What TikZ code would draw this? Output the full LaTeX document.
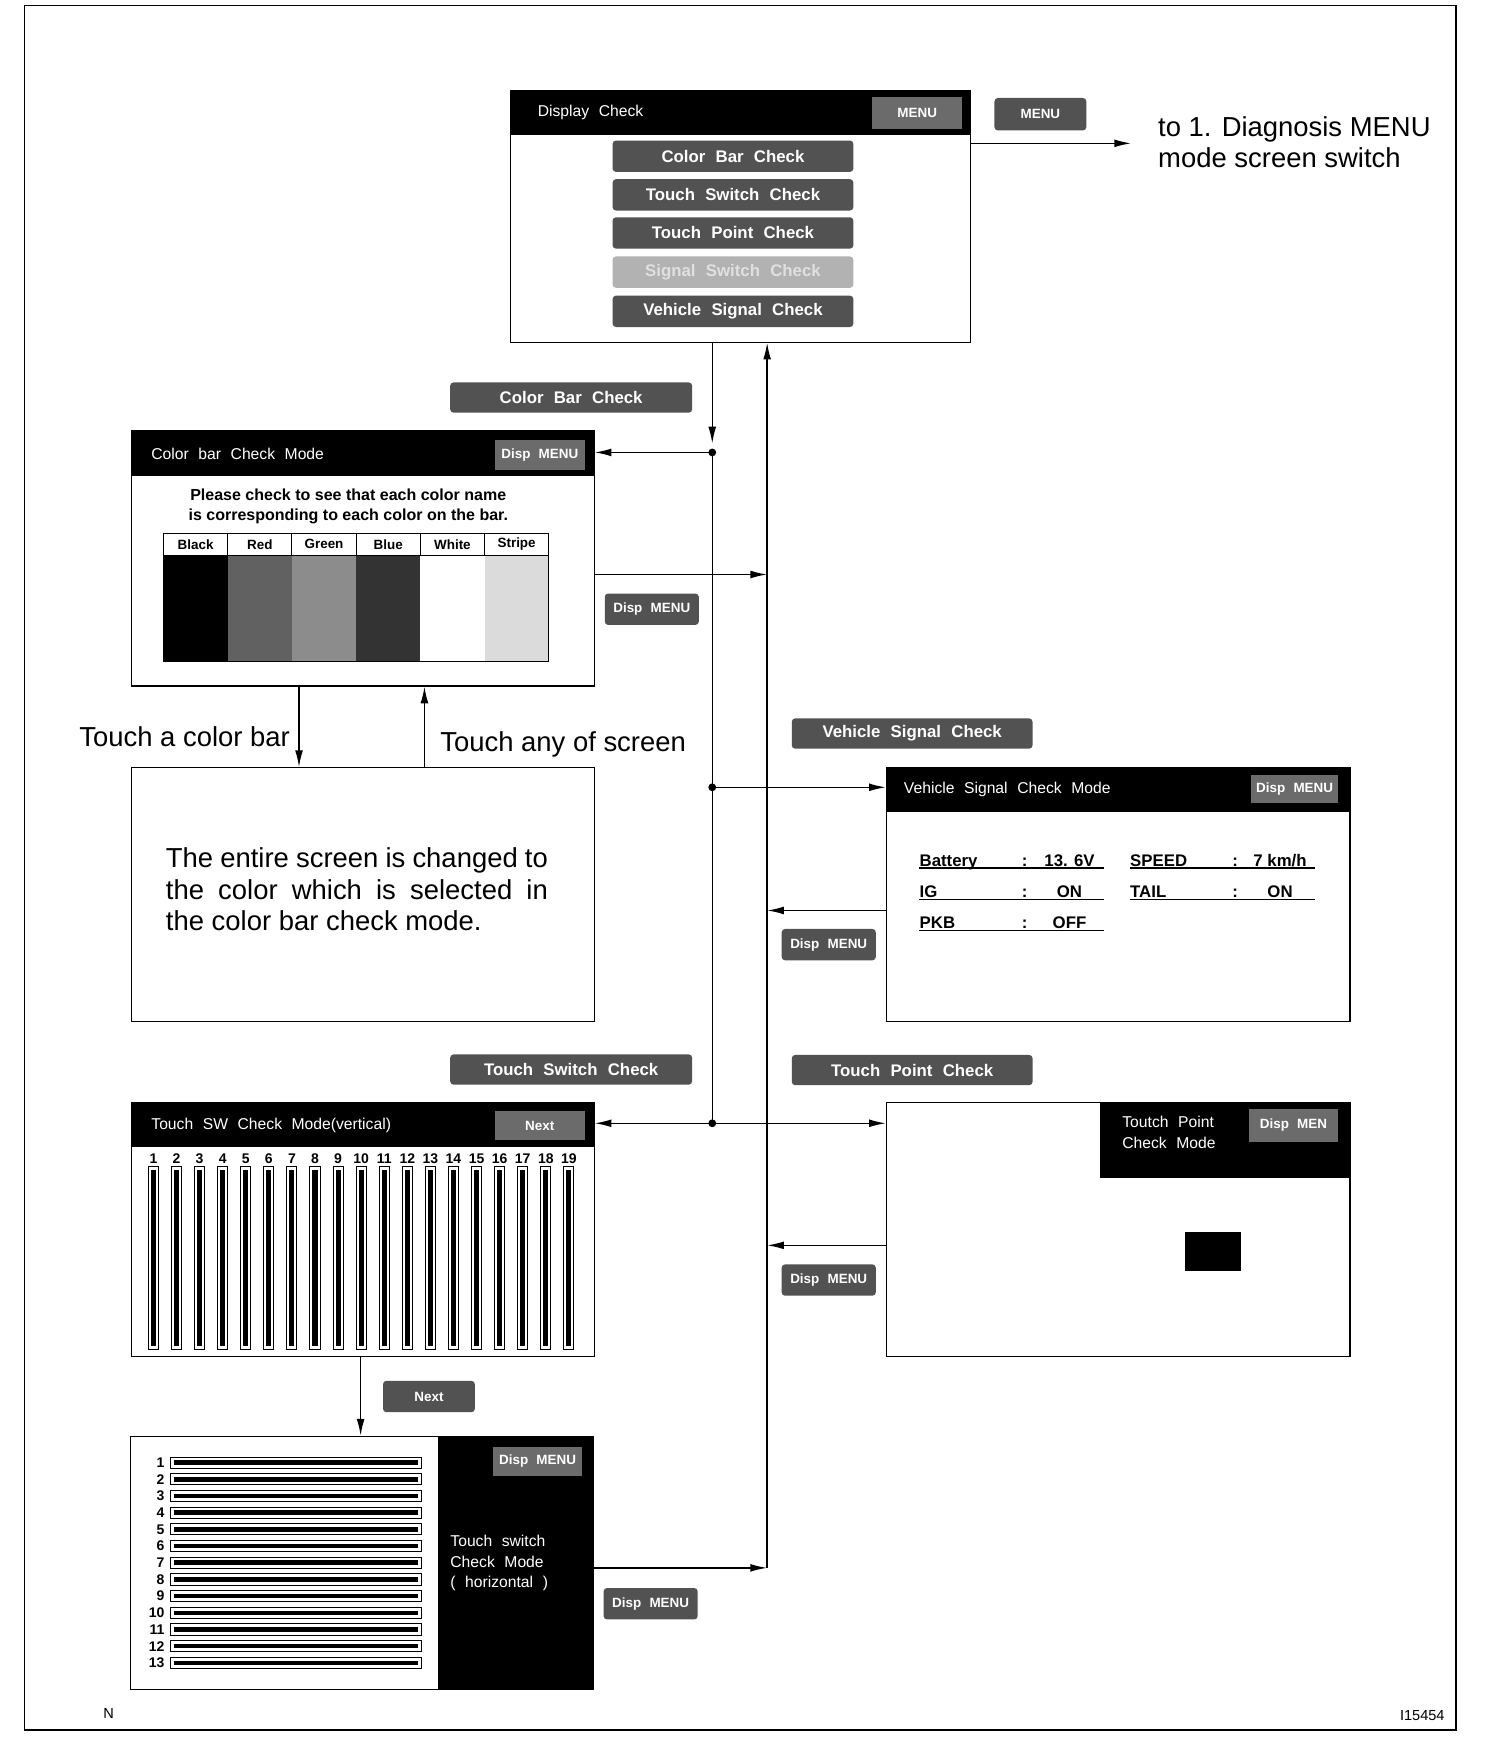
\documentclass[tikz,border=0pt]{standalone}
\usepackage{fontspec}
\setmainfont{Liberation Sans}
\newfontfamily\scrfont{Liberation Sans}[WordSpace=2.2]
\usetikzlibrary{arrows.meta}

\begin{document}
\begin{tikzpicture}[
  x=1pt, y=-1pt, >=Latex,
  every node/.append style={execute at begin node={\hyphenpenalty=10000\exhyphenpenalty=10000}},
  scr/.style={draw, line width=1pt, fill=white, inner sep=0pt, anchor=north west},
  hdr/.style={fill=black, inner sep=0pt, anchor=north west},
  btn/.style={rounded corners=3pt, fill=black!68, text=white, inner sep=0pt, font=\scrfont\bfseries\fontsize{15}{17}\selectfont},
  sbtn/.style={btn, minimum width=84pt, minimum height=28pt, font=\scrfont\bfseries\fontsize{12}{14}\selectfont},
  hbtn/.style={fill=black!58, text=white, inner sep=0pt, minimum width=80pt, minimum height=27pt, font=\scrfont\bfseries\fontsize{12}{14}\selectfont},
  ttl/.style={text=white, anchor=west, inner sep=0pt, align=left, font=\scrfont\fontsize{14}{18}\selectfont},
  lbl/.style={inner sep=0pt, font=\fontsize{24.5}{28}\selectfont},
  val/.style={inner sep=0pt, font=\bfseries\fontsize{15}{18}\selectfont},
  num/.style={inner sep=0pt, font=\bfseries\fontsize{12.5}{14}\selectfont},
  arr/.style={-{Latex[length=15pt,width=7pt]}, line width=1.3pt},
]
\useasboundingbox (0,0) rectangle (1343,1568);
\draw[line width=1.5pt] (22,5) rectangle (1300,1545);

% Display check screen
\node[scr, minimum width=411pt, minimum height=225pt] (disp) at (455,80) {};
\node[hdr, minimum width=411pt, minimum height=40pt] (disph) at (455,80) {};
\node[ttl] (dispt) at (480,100) {Display Check};
\node[hbtn, minimum height=29pt] (dispm) at (819,101) {MENU};
\foreach \y/\t/\c/\f [count=\i] in {139.5/Color Bar Check/black!68/white,
    174/Touch Switch Check/black!68/white, 208/Touch Point Check/black!68/white,
    243/Signal Switch Check/black!30/black!12, 278/Vehicle Signal Check/black!68/white}{
  \node[btn, fill=\c, text=\f, minimum width=215pt, minimum height=28pt] (db\i) at (654.5,\y) {\t};
}

\node[sbtn, minimum width=82pt, minimum height=29pt] (outm) at (929,102) {MENU};
\coordinate (out) at (1010,128);
\draw[arr] (disp.east |- out) -- (out);
\node[lbl, anchor=north west, align=left] (tomenu) at (1034,104) {to 1. Diagnosis MENU\\mode screen switch};

% Color bar check screen
\node[scr, minimum width=413pt, minimum height=228pt] (cbar) at (117,384) {};
\node[hdr, minimum width=413pt, minimum height=41pt] (cbarh) at (117,384) {};
\node[ttl] (cbart) at (135,405) {Color bar Check Mode};
\node[hbtn] (cbarm) at (482,406) {Disp MENU};
\node[align=center, inner sep=0pt, font=\bfseries\fontsize{14.3}{18}\selectfont] (cbarq) at (311,452)
  {Please check to see that each color name\\is corresponding to each color on the bar.};
\foreach \n/\c [count=\i] in {Black/black, Red/black!62, Green/black!45, Blue/black!80, White/white, Stripe/black!14}{
  \fill[\c] ({146+(\i-1)*57.33},496) rectangle ++(57.33,95);
  \draw[line width=0.8pt] ({146+(\i-1)*57.33},476) -- ++(0,20);
  \node[inner sep=0pt, font=\bfseries\fontsize{12}{14}\selectfont] (cc\i) at ({146+(\i-0.5)*57.33},486) {\n};
}
\draw[line width=1pt] (146,476) rectangle (490,591);
\draw[line width=0.8pt] (146,496) -- (490,496);

% Full colour screen
\node[scr, minimum width=413pt, minimum height=227pt] (full) at (117,685) {};
\node[lbl, text width=341pt, align=justify, anchor=north west] (fullt) at (148,757)
  {The entire screen is changed to\linebreak the color which is selected in\linebreak the color bar check mode.};
\coordinate (ca) at (267,650);
\coordinate (cb) at (379,650);
\draw[arr] (cbar.south -| ca) -- (full.north -| ca);
\draw[arr] (full.north -| cb) -- (cbar.south -| cb);
\node[lbl, anchor=east] (tca) at (259,658) {Touch a color bar};
\node[lbl, anchor=west] (tcb) at (393,665) {Touch any of screen};

% Vehicle signal check screen
\node[scr, minimum width=414pt, minimum height=227pt] (veh) at (791,685) {};
\node[hdr, minimum width=414pt, minimum height=40pt] (vehh) at (791,685) {};
\node[ttl] (veht) at (807,704.5) {Vehicle Signal Check Mode};
\node[hbtn, minimum width=78pt, minimum height=25pt] (vehm) at (1156,704.5) {Disp MENU};
\foreach \y/\k/\v [count=\i] in {775/Battery/13. 6V, 803/IG/ON, 831/PKB/OFF}{
  \node[val, anchor=base west] (vk\i) at (821,{\y-1.5}) {\k};
  \node[val, anchor=base] (vc\i) at (915,{\y-1.5}) {:};
  \node[val, anchor=base] (vv\i) at (955,{\y-1.5}) {\v};
  \draw[line width=1.1pt] (821,\y) -- (986,\y);
}
\foreach \y/\k/\v [count=\i] in {775/SPEED/{7 km/h}, 803/TAIL/ON}{
  \node[val, anchor=base west] (wk\i) at (1009,{\y-1.5}) {\k};
  \node[val, anchor=base] (wc\i) at (1103,{\y-1.5}) {:};
  \node[val, anchor=base] (wv\i) at (1143,{\y-1.5}) {\v};
  \draw[line width=1.1pt] (1009,\y) -- (1174,\y);
}

% Touch switch check screen (vertical)
\node[scr, minimum width=413pt, minimum height=227pt] (tsw) at (117,984) {};
\node[hdr, minimum width=413pt, minimum height=40pt] (tswh) at (117,984) {};
\node[ttl] (tswt) at (135,1005) {Touch SW Check Mode(vertical)};
\node[hbtn, minimum height=26pt] (tswm) at (482,1005) {Next};
\foreach \i in {1,...,19}{
  \pgfmathsetmacro\xx{137+(\i-1)*20.61}
  \node[num] (vn\i) at (\xx,1035) {\i};
  \draw[line width=0.9pt, fill=white] ({\xx-4.5},1042) rectangle ({\xx+4.5},1205);
  \fill ({\xx-2.3},1045) rectangle ({\xx+2.3},1202);
}

% Touch point check screen
\node[scr, minimum width=414pt, minimum height=227pt] (tpt) at (791,984) {};
\node[hdr, minimum width=223pt, minimum height=68pt] (tpth) at (982,984) {};
\node[ttl, anchor=north west, font=\scrfont\fontsize{14}{19}\selectfont] (tptt) at (1002,996) {Toutch Point\\Check Mode};
\node[hbtn, minimum height=30pt] (tptm) at (1155,1005) {Disp MEN};
\node[hdr, minimum width=50pt, minimum height=35pt] (tptp) at (1058,1100) {};

% Touch switch check screen (horizontal)
\node[scr, minimum width=413pt, minimum height=226pt] (hsw) at (116,1282) {};
\node[hdr, minimum width=138pt, minimum height=226pt] (hswh) at (391,1282) {};
\node[hbtn, minimum height=26pt] (hswm) at (480,1305) {Disp MENU};
\node[ttl, anchor=north west] (hswt) at (402,1371) {Touch switch\\Check Mode\\( horizontal )};
\foreach \i in {1,...,13}{
  \pgfmathsetmacro\yy{1306+(\i-1)*14.9}
  \node[num, anchor=east] (hn\i) at (147,\yy) {\i};
  \draw[line width=0.9pt, fill=white] (152,{\yy-5}) rectangle (376,{\yy+5});
  \fill (155,{\yy-2}) rectangle (373,{\yy+2});
}
\coordinate (nx) at (322,1240);
\draw[arr] (tsw.south -| nx) -- (hsw.north -| nx);

% Trunk and return lines
\coordinate (j1) at (636,404);
\coordinate (j2) at (636,703);
\coordinate (j3) at (636,1003);
\coordinate (r1) at (685,513);
\coordinate (r2) at (685,813);
\coordinate (r3) at (685,1112);
\coordinate (r4) at (685,1400);

\draw[arr, shorten >=8pt] (disp.south -| j1) -- (j1);
\draw[line width=1.3pt] (j1) -- (j3);
\draw[arr] (j1) -- (cbar.east |- j1);
\draw[arr] (j2) -- (veh.west |- j2);
\draw[arr] (j3) -- (tsw.east |- j3);
\draw[arr] (j3) -- (tpt.west |- j3);
\foreach \j in {j1,j2,j3} \fill (\j) circle (3.5pt);

\draw[arr] (cbar.east |- r1) -- (r1);
\draw[arr] (veh.west |- r2) -- (r2);
\draw[arr] (tpt.west |- r3) -- (r3);
\draw[arr] (hsw.east |- r4) -- (r4);
\draw[arr] (r4) -- (r4 |- disp.south);

% Switch labels
\node[btn, minimum width=216pt, minimum height=27pt] (lcb) at (510,355) {Color Bar Check};
\node[btn, minimum width=215pt, minimum height=27pt] (lvs) at (814.5,655) {Vehicle Signal Check};
\node[btn, minimum width=216pt, minimum height=27pt] (lts) at (510,955) {Touch Switch Check};
\node[btn, minimum width=215pt, minimum height=27pt] (ltp) at (814.5,955.5) {Touch Point Check};
\node[sbtn] (ldm1) at (582,544) {Disp MENU};
\node[sbtn] (ldm2) at (740,843.5) {Disp MENU};
\node[sbtn] (ldm3) at (740,1143) {Disp MENU};
\node[sbtn] (ldm4) at (581,1432) {Disp MENU};
\node[sbtn, minimum width=82pt] (lnx) at (383,1247) {Next};

% Footer
\node[inner sep=0pt, font=\fontsize{13}{15}\selectfont] (fn) at (97,1530) {N};
\node[inner sep=0pt, font=\fontsize{13}{15}\selectfont] (fid) at (1270,1532) {I15454};

\end{tikzpicture}
\end{document}
